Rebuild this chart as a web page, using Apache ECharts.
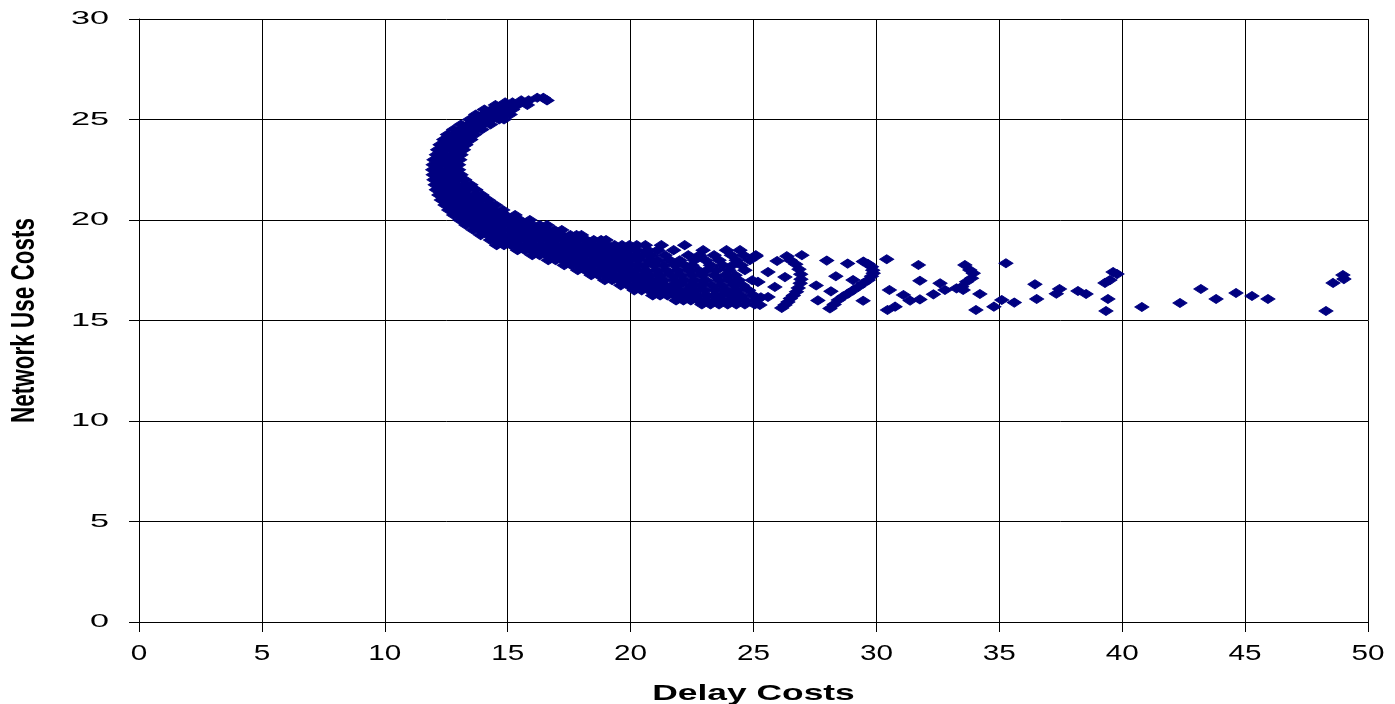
<!DOCTYPE html>
<html>
<head>
<meta charset="utf-8">
<title>Delay vs Network Use Costs</title>
<script src="https://cdn.jsdelivr.net/npm/echarts@6/dist/echarts.min.js"></script>
<style>
  html, body { margin: 0; padding: 0; background: #fff; }
  #chart { width: 1395px; height: 704px; }
</style>
</head>
<body>
<div id="chart"></div>
<script>
// Axis tick labels
const xTicks = [0, 5, 10, 15, 20, 25, 30, 35, 40, 45, 50];
const yTicks = [0, 5, 10, 15, 20, 25, 30];

// Dense crescent: rows of [networkUseCost, [delayCost, ...]]
const crescentRows = [
  [26.08, [16.2, 16.45]],
  [25.95, [15.55, 15.85, 16.6]],
  [25.85, [14.9, 15.2]],
  [25.72, [14.5, 14.8, 15.1, 15.4, 15.8]],
  [25.5, [14.05, 14.35, 14.65, 14.95, 15.2]],
  [25.25, [13.7, 14.0, 14.3, 14.6, 14.9, 15.1]],
  [25.0, [13.45, 13.75, 14.05, 14.35, 14.65, 14.85]],
  [24.75, [13.1, 13.4, 13.7, 14.0, 14.3]],
  [24.5, [12.8, 13.1, 13.4, 13.7, 13.95]],
  [24.25, [12.55, 12.85, 13.15, 13.45, 13.65]],
  [24.0, [12.4, 12.7, 13.0, 13.3, 13.5]],
  [23.75, [12.25, 12.55, 12.85, 13.15, 13.3]],
  [23.5, [12.15, 12.45, 12.75, 13.05, 13.2]],
  [23.25, [12.1, 12.4, 12.7, 13.0, 13.1]],
  [23.0, [12.0, 12.3, 12.6, 12.9, 13.05]],
  [22.75, [11.97, 12.25, 12.55, 12.85, 13.0]],
  [22.5, [11.95, 12.2, 12.5, 12.8, 13.0]],
  [22.25, [11.97, 12.25, 12.55, 12.85, 13.1]],
  [22.0, [12.0, 12.3, 12.6, 12.9, 13.25]],
  [21.75, [12.05, 12.35, 12.65, 12.95, 13.25, 13.5]],
  [21.5, [12.1, 12.4, 12.7, 13.0, 13.3, 13.7]],
  [21.25, [12.2, 12.5, 12.8, 13.1, 13.4, 13.7, 13.95]],
  [21.0, [12.3, 12.6, 12.9, 13.2, 13.5, 13.8, 14.2]],
  [20.75, [12.45, 12.75, 13.05, 13.35, 13.65, 13.95, 14.25, 14.5]],
  [20.5, [12.6, 12.9, 13.2, 13.5, 13.8, 14.1, 14.4, 14.8]],
  [20.25, [12.8, 13.1, 13.4, 13.7, 14.0, 14.3, 14.6, 14.9, 15.3]],
  [20.0, [13.05, 13.35, 13.65, 13.95, 14.25, 14.55, 14.85, 15.15, 15.5, 15.9]],
  [19.75, [13.3, 13.6, 13.9, 14.2, 14.5, 14.8, 15.1, 15.4, 15.7, 16.0, 16.3, 16.6]],
  [19.5, [13.6, 13.9, 14.2, 14.5, 14.8, 15.1, 15.4, 15.7, 16.0, 16.3, 16.6, 16.9, 17.2]],
  [19.25, [13.9, 14.2, 14.5, 14.8, 15.1, 15.4, 15.7, 16.0, 16.3, 16.6, 16.9, 17.2, 17.55, 17.8, 18.0]],
  [19.0, [14.3, 14.6, 14.9, 15.2, 15.5, 15.8, 16.1, 16.4, 16.7, 17.0, 17.3, 17.6, 17.9, 18.2, 18.5, 18.8, 19.0]]
];

// Lower band, delay costs roughly 14.5 to 25
const bandRows = [
  [18.75, [14.55, 14.85, 15.15, 15.45, 15.75, 16.05, 16.35, 16.65, 16.95, 17.25, 17.55, 17.85, 18.15, 18.45, 18.75, 19.05, 19.35, 19.65, 19.95, 20.25, 20.6, 21.25, 22.2]],
  [18.5, [15.4, 15.7, 16.0, 16.3, 16.6, 16.9, 17.2, 17.5, 17.8, 18.1, 18.4, 18.7, 19.0, 19.3, 19.6, 19.9, 20.25, 20.7, 21.1, 21.75, 22.95, 23.9, 24.45]],
  [18.25, [16.0, 16.3, 16.6, 16.9, 17.2, 17.5, 17.8, 18.1, 18.4, 18.7, 19.0, 19.3, 19.6, 19.9, 20.2, 20.5, 20.85, 21.4, 22.35, 22.8, 23.4, 24.1, 24.6, 25.1]],
  [18.0, [16.65, 16.95, 17.25, 17.55, 17.85, 18.15, 18.45, 18.75, 19.05, 19.35, 19.65, 19.95, 20.3, 20.75, 21.1, 21.6, 22.0, 22.6, 23.05, 23.6, 24.3, 24.85]],
  [17.75, [17.3, 17.6, 17.9, 18.2, 18.5, 18.8, 19.1, 19.4, 19.7, 20.0, 20.3, 20.6, 20.95, 21.35, 21.8, 22.2, 22.5, 23.25, 23.75, 24.15, 24.5]],
  [17.5, [17.85, 18.15, 18.45, 18.75, 19.05, 19.35, 19.65, 19.95, 20.25, 20.6, 21.05, 21.45, 21.9, 22.35, 22.75, 23.1, 23.5, 24.0, 24.65]],
  [17.25, [18.4, 18.7, 19.0, 19.3, 19.6, 19.9, 20.2, 20.5, 20.8, 21.2, 21.65, 22.05, 22.5, 22.9, 23.4, 23.85, 24.25]],
  [17.0, [18.95, 19.25, 19.55, 19.85, 20.15, 20.45, 20.75, 21.05, 21.35, 21.8, 22.2, 22.6, 23.05, 23.6, 24.0, 24.4, 24.95]],
  [16.75, [19.6, 19.9, 20.2, 20.5, 20.8, 21.1, 21.4, 21.7, 22.0, 22.45, 22.85, 23.3, 23.7, 24.2, 24.55]],
  [16.5, [20.15, 20.45, 20.75, 21.05, 21.35, 21.65, 21.95, 22.3, 22.6, 23.0, 23.45, 23.9, 24.3, 24.8]],
  [16.25, [20.9, 21.2, 21.5, 21.8, 22.1, 22.4, 22.75, 23.1, 23.4, 23.7, 24.1, 24.5, 25.0]],
  [16.0, [21.85, 22.15, 22.45, 22.75, 23.05, 23.4, 23.7, 24.0, 24.3, 24.7, 25.1]],
  [15.8, [22.9, 23.25, 23.6, 23.95, 24.3, 24.65, 25.05]]
];

// Two small arcs between delay costs 26 and 30: [delay, network]
const arcNear = [
  [26.5, 18.0], [26.72, 17.8], [26.85, 17.55], [26.92, 17.3], [26.93, 17.05],
  [26.9, 16.85], [26.82, 16.62], [26.75, 16.43], [26.62, 16.25], [26.5, 16.1],
  [26.4, 15.92], [26.28, 15.77], [26.15, 15.62]
];
const arcFar = [
  [28.11, 15.6], [28.28, 15.8], [28.45, 16.02], [28.65, 16.2], [28.86, 16.35],
  [29.05, 16.5], [29.27, 16.68], [29.47, 16.85], [29.67, 17.01], [29.8, 17.2],
  [29.87, 17.35], [29.85, 17.5], [29.8, 17.68], [29.65, 17.82], [29.47, 17.93]
];

// Scattered solutions with higher delay costs: [delay, network]
const tailPoints = [
  [25.1, 18.2], [25.96, 17.96], [26.36, 18.2], [25.59, 17.41], [25.18, 16.92],
  [26.28, 17.16], [25.87, 16.67], [25.59, 16.17], [25.3, 16.15], [25.26, 15.77],
  [26.97, 18.25], [27.98, 17.98], [27.55, 16.74], [28.35, 17.2], [28.15, 16.45],
  [27.62, 16.0], [28.83, 17.83], [29.05, 17.01], [29.46, 15.98],
  [30.42, 18.05], [30.53, 16.52], [30.45, 15.52], [30.76, 15.69], [31.1, 16.27],
  [31.37, 15.99], [31.71, 17.76], [31.77, 16.98], [31.77, 16.05], [32.32, 16.3],
  [32.59, 16.85], [32.79, 16.52], [33.26, 16.6], [33.47, 16.68], [33.53, 16.52],
  [33.67, 16.93], [33.87, 17.1], [33.94, 17.35], [33.8, 17.51], [33.6, 17.76],
  [34.21, 16.32], [34.05, 15.52], [34.78, 15.69], [35.1, 16.02], [35.61, 15.89],
  [35.27, 17.85], [36.45, 16.8], [36.52, 16.07], [37.32, 16.33], [37.45, 16.57],
  [38.2, 16.47], [38.53, 16.32], [39.42, 16.07], [39.34, 15.47], [39.3, 16.87],
  [39.5, 17.01], [39.63, 17.41], [39.79, 17.31], [40.8, 15.67], [42.35, 15.87],
  [43.2, 16.57], [43.82, 16.07], [44.63, 16.37], [45.28, 16.22], [45.93, 16.07],
  [48.29, 15.47], [48.58, 16.87], [48.98, 17.26], [49.02, 17.06]
];

function rowsToPairs(rows) {
  const out = [];
  rows.forEach(([y, xs]) => xs.forEach(x => out.push([x, y])));
  return out;
}

const FONT = '"Liberation Sans", Arial, sans-serif';
const NAVY = '#000080';

function scatterSeries(name, data) {
  return {
    name: name,
    type: 'scatter',
    data: data,
    symbol: 'diamond',
    symbolSize: [14, 9],
    itemStyle: { color: NAVY, borderColor: NAVY, borderWidth: 1, opacity: 1 },
    emphasis: { disabled: true },
    silent: true
  };
}

const chart = echarts.init(document.getElementById('chart'), null, { renderer: 'canvas' });

const axisCommon = {
  type: 'value',
  interval: 5,
  axisLine: { show: true, onZero: false, lineStyle: { color: '#000', width: 1 } },
  axisTick: { show: true, inside: false, length: 10, lineStyle: { color: '#000', width: 1 } },
  axisLabel: { show: false },
  splitLine: { show: true, lineStyle: { color: '#000', width: 1 } }
};

chart.setOption({
  animation: false,
  backgroundColor: '#fff',
  grid: { left: 139, right: 27, top: 19, bottom: 82, containLabel: false },
  xAxis: Object.assign({}, axisCommon, { min: 0, max: 50 }),
  yAxis: Object.assign({}, axisCommon, { min: 0, max: 30 }),
  series: [
    scatterSeries('crescent', rowsToPairs(crescentRows)),
    scatterSeries('band', rowsToPairs(bandRows)),
    scatterSeries('arcNear', arcNear),
    scatterSeries('arcFar', arcFar),
    scatterSeries('tail', tailPoints)
  ]
});

// Tick labels and axis names are drawn as stretched text, placed through the axis scales
const graphics = [];
yTicks.forEach(v => {
  const py = chart.convertToPixel({ yAxisIndex: 0 }, v);
  graphics.push({
    type: 'text', x: 109, y: py, scaleX: 1.84, silent: true,
    style: { text: String(v), fontSize: 18.6, fontFamily: FONT, fill: '#000', align: 'right', verticalAlign: 'middle' }
  });
});
xTicks.forEach(v => {
  const px = chart.convertToPixel({ xAxisIndex: 0 }, v);
  graphics.push({
    type: 'text', x: px, y: 654, scaleX: 1.35, silent: true,
    style: { text: String(v), fontSize: 22, fontFamily: FONT, fill: '#000', align: 'center', verticalAlign: 'middle' }
  });
});
const xMid = (chart.convertToPixel({ xAxisIndex: 0 }, 0) + chart.convertToPixel({ xAxisIndex: 0 }, 50)) / 2;
const yMid = (chart.convertToPixel({ yAxisIndex: 0 }, 0) + chart.convertToPixel({ yAxisIndex: 0 }, 30)) / 2;
graphics.push({
  type: 'text', x: xMid, y: 694, scaleX: 1.58, silent: true,
  style: { text: 'Delay Costs', fontSize: 22.4, fontWeight: 'bold', fontFamily: FONT, fill: '#000', align: 'center', verticalAlign: 'middle' }
});
graphics.push({
  type: 'text', x: 25, y: yMid, rotation: Math.PI / 2, scaleY: 1.44, silent: true,
  style: { text: 'Network Use Costs', fontSize: 22.5, fontWeight: 'bold', fontFamily: FONT, fill: '#000', align: 'center', verticalAlign: 'middle' }
});
chart.setOption({ graphic: graphics });
</script>
</body>
</html>
